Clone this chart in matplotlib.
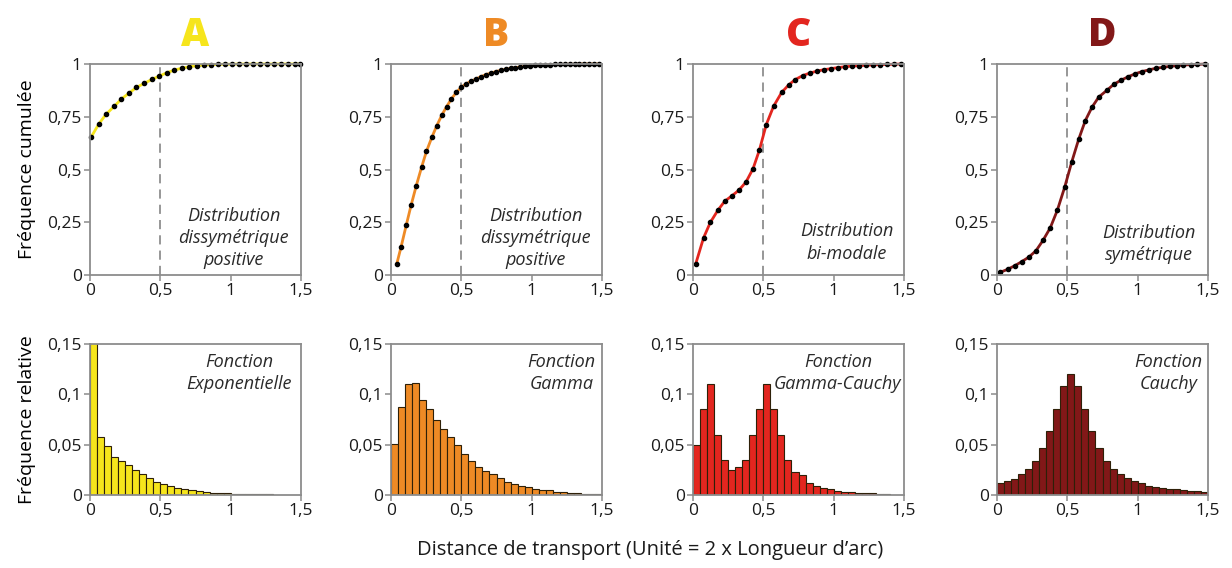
import numpy as np
import matplotlib.pyplot as plt
from matplotlib.ticker import FuncFormatter

plt.rcParams['font.family'] = ['Open Sans', 'DejaVu Sans']

# --- cumulative curves (top row) ---
a_x = [0.01, 0.063, 0.113, 0.173, 0.223, 0.278, 0.33, 0.385, 0.44, 0.494, 0.547,
       0.6, 0.652, 0.706, 0.76, 0.81, 0.86, 0.91, 0.96, 1.01, 1.06, 1.11, 1.16,
       1.21, 1.26, 1.31, 1.36, 1.41, 1.46, 1.49]
a_y = [0.656, 0.716, 0.761, 0.80, 0.834, 0.862, 0.889, 0.908, 0.927, 0.943, 0.959,
       0.971, 0.98, 0.987, 0.992, 0.995, 0.997, 0.998, 0.999, 0.999, 1.0, 1.0, 1.0,
       1.0, 1.0, 1.0, 1.0, 1.0, 1.0, 1.0]

b_x = [0.04, 0.072, 0.108, 0.143, 0.18, 0.217, 0.252, 0.29, 0.325, 0.36, 0.395,
       0.43, 0.465, 0.5, 0.533, 0.57, 0.603, 0.64, 0.675, 0.71, 0.745, 0.78, 0.815,
       0.85, 0.885, 0.92, 0.955, 0.99, 1.025, 1.06, 1.095, 1.13, 1.165, 1.2, 1.235,
       1.27, 1.305, 1.34, 1.375, 1.41, 1.445, 1.48]
b_y = [0.05, 0.134, 0.235, 0.331, 0.424, 0.51, 0.586, 0.652, 0.707, 0.756, 0.798,
       0.835, 0.866, 0.89, 0.906, 0.918, 0.929, 0.94, 0.95, 0.957, 0.964, 0.97, 0.975,
       0.979, 0.983, 0.986, 0.989, 0.991, 0.993, 0.995, 0.996, 0.997, 0.998, 0.998,
       0.999, 0.999, 0.999, 1.0, 1.0, 1.0, 1.0, 1.0]

c_x = [0.019, 0.075, 0.123, 0.177, 0.226, 0.278, 0.328, 0.377, 0.427, 0.472, 0.521,
       0.573, 0.63, 0.679, 0.726, 0.78, 0.83, 0.88, 0.93, 0.98, 1.03, 1.08, 1.13,
       1.18, 1.23, 1.28, 1.33, 1.38, 1.43, 1.48]
c_y = [0.052, 0.176, 0.249, 0.307, 0.35, 0.376, 0.403, 0.441, 0.504, 0.592, 0.713,
       0.80, 0.865, 0.90, 0.926, 0.945, 0.957, 0.966, 0.973, 0.978, 0.983, 0.987,
       0.99, 0.992, 0.994, 0.996, 0.997, 0.998, 0.999, 1.0]

d_x = [0.024, 0.076, 0.126, 0.175, 0.227, 0.277, 0.327, 0.379, 0.429, 0.481, 0.531,
       0.581, 0.628, 0.675, 0.723, 0.784, 0.831, 0.884, 0.934, 0.98, 1.03, 1.08,
       1.13, 1.18, 1.23, 1.28, 1.325, 1.38, 1.425, 1.48]
d_y = [0.013, 0.027, 0.044, 0.063, 0.085, 0.115, 0.164, 0.224, 0.307, 0.416, 0.535,
       0.644, 0.732, 0.795, 0.843, 0.877, 0.904, 0.924, 0.94, 0.953, 0.964, 0.972,
       0.98, 0.984, 0.989, 0.992, 0.995, 0.997, 0.998, 1.0]

# --- histograms (bottom row), bins of 0.05 starting at 0 ---
a_hist = [0.60, 0.058, 0.0487, 0.038, 0.034, 0.030, 0.025, 0.021, 0.0166, 0.0132,
          0.011, 0.0093, 0.0073, 0.006, 0.0046, 0.0036, 0.0026, 0.0023, 0.002,
          0.0017, 0.0013, 0.001, 0.0008, 0.0007, 0.0006, 0.0005]
b_hist = [0.0507, 0.0877, 0.110, 0.111, 0.0944, 0.085, 0.075, 0.066, 0.058, 0.050,
          0.041, 0.034, 0.028, 0.024, 0.021, 0.0166, 0.013, 0.011, 0.0093, 0.0076,
          0.006, 0.0053, 0.0046, 0.0033, 0.0026, 0.002, 0.0017, 0.0013, 0.0013, 0.001]
c_hist = [0.050, 0.085, 0.110, 0.060, 0.035, 0.025, 0.028, 0.035, 0.060, 0.085,
          0.110, 0.085, 0.060, 0.035, 0.023, 0.020, 0.0116, 0.0093, 0.0066, 0.0056,
          0.0043, 0.0033, 0.0026, 0.0023, 0.002, 0.0017, 0.0013, 0.001]
d_hist = [0.0116, 0.0139, 0.0159, 0.0205, 0.0258, 0.034, 0.0464, 0.0636, 0.085,
          0.1086, 0.120, 0.1086, 0.085, 0.0636, 0.0464, 0.034, 0.0258, 0.0205,
          0.0166, 0.0139, 0.0116, 0.0093, 0.0083, 0.007, 0.0063, 0.0056, 0.005,
          0.0043, 0.0036, 0.0033]

letters = ['A', 'B', 'C', 'D']
colors = ['#f6e51c', '#ee8a25', '#e3261f', '#821818']
cum_x = [a_x, b_x, c_x, d_x]
cum_y = [a_y, b_y, c_y, d_y]
hists = [a_hist, b_hist, c_hist, d_hist]
top_text = ['Distribution\ndissymétrique\npositive', 'Distribution\ndissymétrique\npositive',
            'Distribution\nbi-modale', 'Distribution\nsymétrique']
top_text_pos = [(1.02, 0.175), (1.03, 0.175), (1.095, 0.154), (1.08, 0.147)]
bot_text = ['Fonction\nExponentielle', 'Fonction\nGamma', 'Fonction\nGamma-Cauchy',
            'Fonction\nCauchy']
bot_text_pos = [1.06, 1.21, 1.03, 1.22]
bin_w = 0.05

def comma(v, pos):
    s = ('%g' % v).replace('.', ',')
    return s

fig = plt.figure(figsize=(12.32, 5.68), dpi=100)
lefts = [90, 391, 693, 997]
W, H = 1232, 568
spine_c = '#8c8c8c'

def style(ax):
    for s in ax.spines.values():
        s.set_color(spine_c)
        s.set_linewidth(1.3)
    ax.tick_params(colors=spine_c, labelcolor='#1a1a1a', labelsize=12.5,
                   length=4, width=1.1, pad=2)
    ax.xaxis.set_major_formatter(FuncFormatter(comma))
    ax.yaxis.set_major_formatter(FuncFormatter(comma))
    ax.set_xlim(0, 1.5)
    ax.set_xticks([0, 0.5, 1, 1.5])

for i in range(4):
    l = lefts[i] / W
    w = 211 / W
    ax = fig.add_axes([l, 1 - 275 / H, w, 211 / H])
    style(ax)
    ax.set_ylim(0, 1)
    ax.set_yticks([0, 0.25, 0.5, 0.75, 1])
    ax.axvline(0.5, color='#7a7a7a', lw=1.1, ls=(0, (6, 4)))
    ax.plot(cum_x[i], cum_y[i], color=colors[i], lw=2.0, clip_on=False)
    ax.plot(cum_x[i], cum_y[i], 'o', color='black', ms=3.0, clip_on=False)
    tx, ty = top_text_pos[i]
    ax.text(tx, ty, top_text[i], ha='center', va='center', style='italic',
            fontsize=13, color='#2a2a2a', linespacing=1.3)
    fig.text(l + w / 2, 1 - 36 / H, letters[i], ha='center', va='center',
             fontsize=28, fontweight='heavy', color=colors[i])
    if i == 0:
        ax.set_ylabel('Fréquence cumulée', fontsize=14, labelpad=8)

    axb = fig.add_axes([l, 1 - 495 / H, w, 151 / H])
    style(axb)
    axb.set_ylim(0, 0.15)
    axb.set_yticks([0, 0.05, 0.1, 0.15])
    h = hists[i]
    lefts_bins = [k * bin_w for k in range(len(h))]
    axb.bar(lefts_bins, h, width=bin_w, align='edge', color=colors[i],
            edgecolor='#2e2008', linewidth=0.8)
    axb.text(bot_text_pos[i], 0.121, bot_text[i], ha='center', va='center',
             style='italic', fontsize=13, color='#2a2a2a', linespacing=1.3)
    if i == 0:
        axb.set_ylabel('Fréquence relative', fontsize=14, labelpad=8)

fig.text(650 / W, 1 - 550 / H, "Distance de transport (Unité = 2 x Longueur d’arc)",
         ha='center', va='center', fontsize=14.5, color='#1a1a1a')

fig.savefig('out.png', dpi=100)
